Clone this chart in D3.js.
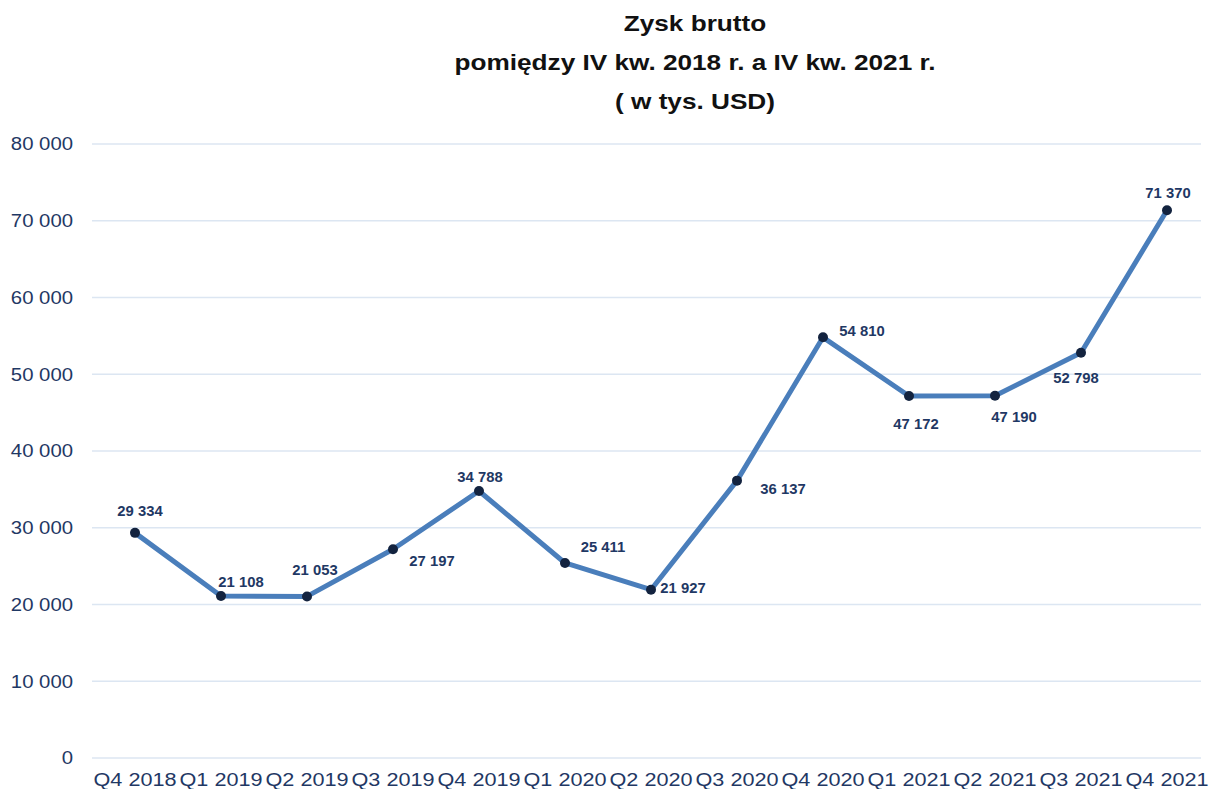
<!DOCTYPE html>
<html lang="pl">
<head>
<meta charset="utf-8">
<title>Zysk brutto</title>
<script src="https://d3js.org/d3.v7.js"></script>
<style>
  body { margin: 0; background: #fff; }
  text { font-family: "Liberation Sans", Arial, sans-serif; }
</style>
</head>
<body>
<div id="my_dataviz"></div>
<script>
// data
const quarters = ["Q4 2018", "Q1 2019", "Q2 2019", "Q3 2019", "Q4 2019", "Q1 2020", "Q2 2020",
                  "Q3 2020", "Q4 2020", "Q1 2021", "Q2 2021", "Q3 2021", "Q4 2021"];
const profit = [29334, 21108, 21053, 27197, 34788, 25411, 21927, 36137, 54810, 47172, 47190, 52798, 71370];
const yTicks = [0, 10000, 20000, 30000, 40000, 50000, 60000, 70000, 80000];
const titleLines = ["Zysk brutto", "pomiędzy IV kw. 2018 r. a IV kw. 2021 r.", "( w tys. USD)"];

// where each data label sits relative to its point
const labelPos = [
  [5, -22], [20, -14], [8, -26], [39, 12], [1, -14], [38, -16], [32, -2],
  [46, 8], [39, -6], [7, 28], [19, 21], [-5, 25], [1, -17]
];

const W = 1211, H = 789;
const margin = {top: 144, right: 1, bottom: 31, left: 92};

const svg = d3.select("#my_dataviz")
  .append("svg")
    .attr("width", W)
    .attr("height", H);

const x = d3.scalePoint()
  .domain(quarters)
  .range([margin.left, W - margin.right])
  .padding(0.5);

const y = d3.scaleLinear()
  .domain([0, 80000])
  .range([H - margin.bottom, margin.top]);

const fmt = v => d3.format(",")(v).replace(/,/g, " ");
const navy = "#1f3864";

// the original text is a bit stretched sideways
function place(sel, fx, fy, sx) {
  sel.attr("transform", (d, i) => `translate(${fx(d, i)},${fy(d, i)}) scale(${sx},1)`);
}

// gridlines
svg.append("g")
  .selectAll("line")
  .data(yTicks)
  .join("line")
    .attr("x1", margin.left)
    .attr("x2", 1201)
    .attr("y1", d => y(d))
    .attr("y2", d => y(d))
    .attr("stroke", "#dce6f2")
    .attr("stroke-width", 1.3);

// y axis labels
svg.append("g")
  .selectAll("text")
  .data(yTicks)
  .join("text")
    .call(place, () => 73, d => y(d), 1.13)
    .attr("dy", "0.35em")
    .attr("text-anchor", "end")
    .attr("font-size", 18)
    .attr("fill", navy)
    .text(d => fmt(d));

// x axis labels
svg.append("g")
  .selectAll("text")
  .data(quarters)
  .join("text")
    .call(place, d => x(d), () => 786, 1.14)
    .attr("text-anchor", "middle")
    .attr("font-size", 19)
    .attr("fill", navy)
    .text(d => d);

// title
svg.append("g")
  .selectAll("text")
  .data(titleLines)
  .join("text")
    .call(place, () => 695, (d, i) => 31 + i * 39, 1.19)
    .attr("text-anchor", "middle")
    .attr("font-size", 22)
    .attr("font-weight", "bold")
    .attr("fill", "#111")
    .text(d => d);

// line
const line = d3.line()
  .x((d, i) => x(quarters[i]))
  .y(d => y(d));

svg.append("path")
  .datum(profit)
  .attr("fill", "none")
  .attr("stroke", "#4a7ebb")
  .attr("stroke-width", 5)
  .attr("stroke-linejoin", "round")
  .attr("d", line);

// markers
svg.append("g")
  .selectAll("circle")
  .data(profit)
  .join("circle")
    .attr("cx", (d, i) => x(quarters[i]))
    .attr("cy", d => y(d))
    .attr("r", 5)
    .attr("fill", "#13233f");

// data labels
svg.append("g")
  .selectAll("text")
  .data(profit)
  .join("text")
    .call(place, (d, i) => x(quarters[i]) + labelPos[i][0], (d, i) => y(d) + labelPos[i][1], 1.06)
    .attr("dy", "0.35em")
    .attr("text-anchor", "middle")
    .attr("font-size", 14)
    .attr("font-weight", "bold")
    .attr("fill", navy)
    .text(d => fmt(d));
</script>
</body>
</html>
